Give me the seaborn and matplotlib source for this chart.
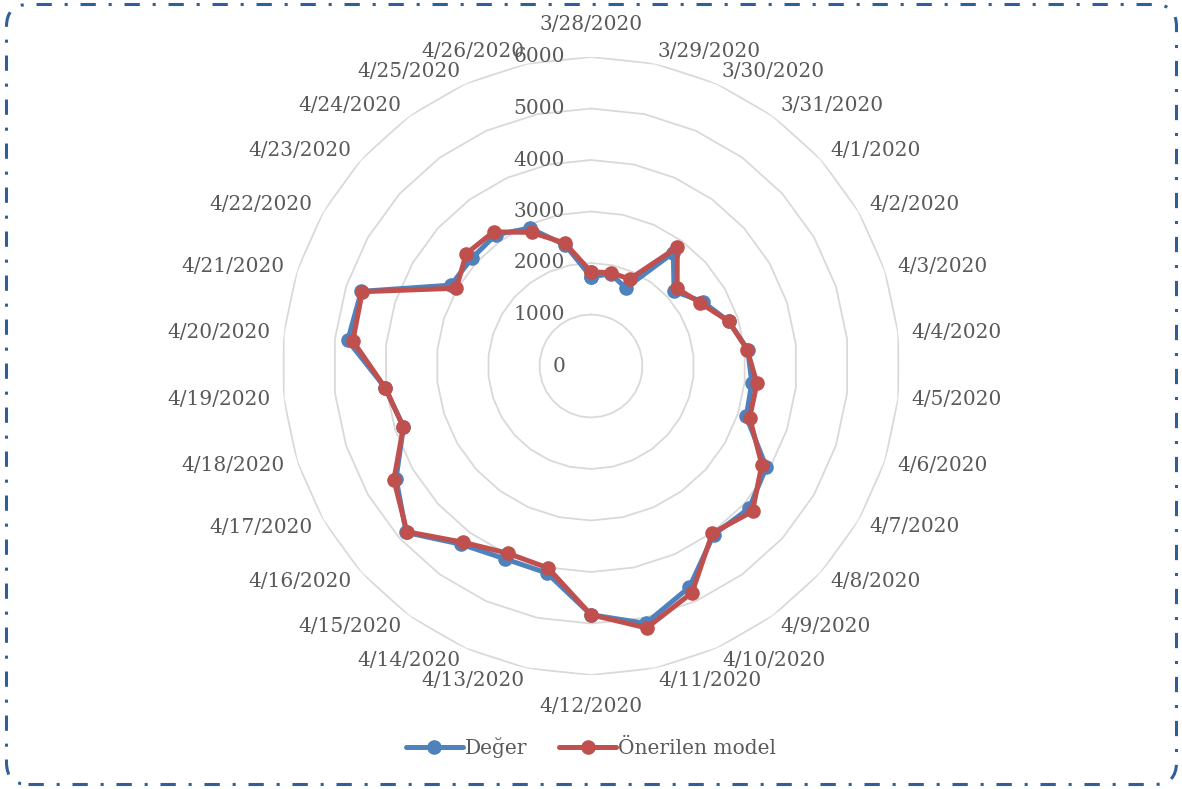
import numpy as np
import pandas as pd
import matplotlib
matplotlib.use("Agg")
import matplotlib.pyplot as plt
import seaborn as sns
from matplotlib.patches import FancyBboxPatch
from matplotlib.transforms import IdentityTransform, offset_copy
from matplotlib.lines import Line2D

# Daily dates on the radar spokes
dates = ["3/28/2020", "3/29/2020", "3/30/2020", "3/31/2020",
         "4/1/2020", "4/2/2020", "4/3/2020", "4/4/2020", "4/5/2020",
         "4/6/2020", "4/7/2020", "4/8/2020", "4/9/2020", "4/10/2020",
         "4/11/2020", "4/12/2020", "4/13/2020", "4/14/2020", "4/15/2020",
         "4/16/2020", "4/17/2020", "4/18/2020", "4/19/2020", "4/20/2020",
         "4/21/2020", "4/22/2020", "4/23/2020", "4/24/2020", "4/25/2020",
         "4/26/2020"]

# Observed values
deger = [1730, 1830, 1660, 2720, 2170, 2500, 2810, 3060, 3140,
         3170, 3930, 4130, 4050, 4700, 5110, 4830, 4110, 4100, 4280,
         4830, 4370, 3830, 4020, 4750, 4690, 3140, 3120, 3150, 2930,
         2400]

# Proposed model values
model = [1830, 1850, 1850, 2850, 2250, 2450, 2810, 3050, 3240,
         3240, 3830, 4220, 4010, 4820, 5200, 4830, 4010, 3980, 4230,
         4810, 4420, 3830, 4020, 4650, 4670, 3020, 3260, 3220, 2840,
         2440]

series_names = ["Değer", "Önerilen model"]
radial_ticks = [0, 1000, 2000, 3000, 4000, 5000, 6000]

BLUE = "#4F81BD"
RED = "#C0504D"
TEXT = "#595959"
GRID = "#D9D9D9"
FONT = "DejaVu Serif"
FS = 14.5

sns.set_theme(style="white")
plt.rcParams["font.family"] = [FONT, "DejaVu Sans"]

n = len(dates)
theta = np.arange(n) * 2 * np.pi / n
theta_closed = np.append(theta, 2 * np.pi)

frames = []
for name, vals in zip(series_names, [deger, model]):
    frames.append(pd.DataFrame({
        "theta": theta_closed,
        "value": np.append(vals, vals[0]),
        "series": name,
    }))
df = pd.concat(frames, ignore_index=True)

W, H = 1182, 789
fig = plt.figure(figsize=(W / 100, H / 100), dpi=100)
fig.patch.set_facecolor("white")

cx, cy, R = 591, 366, 309
ax = fig.add_axes([(cx - R) / W, (H - cy - R) / H, 2 * R / W, 2 * R / H],
                  projection="polar")
ax.set_theta_zero_location("N")
ax.set_theta_direction(-1)
ax.set_ylim(0, 6000)
ax.grid(False)
ax.set_xticks([])
ax.set_yticks([])
ax.spines["polar"].set_visible(False)
ax.patch.set_alpha(0)

# Polygonal rings of the value axis
for v in radial_ticks[1:]:
    ax.plot(theta_closed, [v] * (n + 1), color=GRID, lw=1.3, zorder=0)

sns.lineplot(data=df, x="theta", y="value", hue="series", units="series",
             estimator=None, sort=False, palette=[BLUE, RED],
             hue_order=series_names, marker="o", markersize=10.5,
             markeredgewidth=0, linewidth=3.6, ax=ax, legend=False)
ax.set_xlabel("")
ax.set_ylabel("")

# Value-axis labels along the top spoke
lab_tr = offset_copy(ax.transData, fig=fig, x=-26, y=0, units="dots")
for v in radial_ticks:
    ax.text(0, v, str(v), transform=lab_tr, ha="right", va="center",
            fontsize=FS, color=TEXT, family=FONT)

# Date labels around the outside
for t, lab in zip(theta, dates):
    s, c = np.sin(t), np.cos(t)
    if abs(s) < 0.05:
        r_px = 341
        ha, va = "center", "center"
    else:
        r_px = 322
        ha = "left" if s > 0 else "right"
        va = "center"
    x = cx + r_px * s
    y = H - (cy - r_px * c)
    fig.text(x / W, y / H, lab, ha=ha, va=va, fontsize=FS, color=TEXT,
             family=FONT)

# Legend
handles = [Line2D([], [], color=col, lw=3.6, marker="o", markersize=10.5,
                  markeredgewidth=0) for col in (BLUE, RED)]
fig.legend(handles, series_names, loc="center", bbox_to_anchor=(0.5, (H - 748) / H),
           ncol=2, frameon=False, handlelength=2.8, handletextpad=0.1,
           columnspacing=1.6, prop={"family": FONT, "size": FS},
           labelcolor=TEXT)

# Rounded dash-dot frame
frame = FancyBboxPatch((6.5, 4.5), 1170, 780,
                       boxstyle="round,pad=0,rounding_size=22",
                       transform=IdentityTransform(), fill=False,
                       edgecolor="#2F5E98", lw=2.2,
                       linestyle=(0, (5, 4.2, 1, 4.2)))
fig.patches.append(frame)

fig.savefig("out.png", dpi=100)
